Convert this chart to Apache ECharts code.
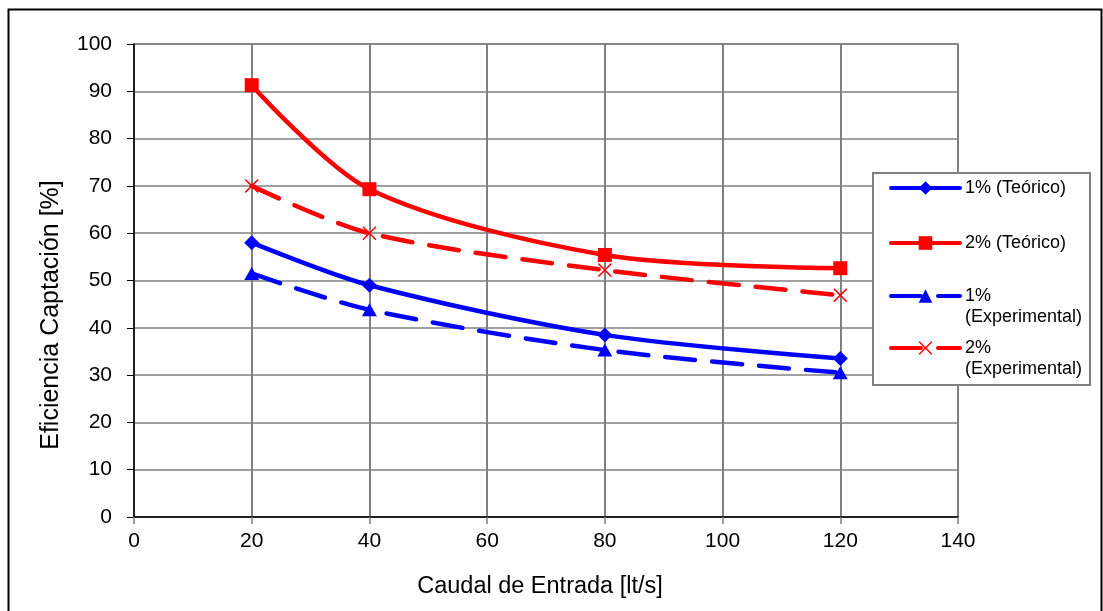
<!DOCTYPE html>
<html>
<head>
<meta charset="utf-8">
<script src="https://cdn.jsdelivr.net/npm/echarts@6/dist/echarts.min.js"></script>
<style>
html,body{margin:0;padding:0;background:#fff;}
#c{width:1103px;height:611px;}
</style>
</head>
<body>
<div id="c"></div>
<script>
const xValues = [20, 40, 80, 120];
const teorico1 = [58.0, 49.0, 38.5, 33.5];
const teorico2 = [91.3, 69.3, 55.4, 52.6];
const exper1 = [51.5, 43.8, 35.3, 30.5];
const exper2 = [70.0, 60.0, 52.2, 46.9];
const seriesNames = ['1% (Teórico)', '2% (Teórico)', '1% (Experimental)', '2% (Experimental)'];

const xPath = 'path://M0,1.5 L1.5,0 L10,8.5 L18.5,0 L20,1.5 L11.5,10 L20,18.5 L18.5,20 L10,11.5 L1.5,20 L0,18.5 L8.5,10 Z';
const FONT = '"Liberation Sans", Arial, sans-serif';

function pairs(vals){ return xValues.map((x,i)=>[x, vals[i]]); }

function legendFor(idx, top){
  return {
    show:true, orient:'vertical', left:889, top:top, padding:0, itemGap:0,
    itemWidth:69, itemHeight:17, backgroundColor:'transparent', borderWidth:0,
    textStyle:{fontSize:18, color:'#000', fontFamily:FONT, lineHeight:21},
    lineStyle:{width:4},
    formatter:function(n){ return n.indexOf(' (Experimental)') >= 0 ? ' \n' + n.replace(' (Experimental)', '\n(Experimental)') : n; },
    data:[ seriesNames[idx] ],
    z:10
  };
}

const chart = echarts.init(document.getElementById('c'), null, {renderer:'canvas'});
chart.setOption({
  animation:false,
  backgroundColor:'#fff',
  textStyle:{fontFamily:FONT},
  grid:{left:134, right:145, top:44, bottom:94, show:true, borderColor:'#808080', borderWidth:1.5, backgroundColor:'transparent'},
  graphic:[
    {type:'rect', shape:{x:8.5, y:9.5, width:1093, height:700}, style:{fill:'none', stroke:'#000', lineWidth:2}, z:-1, silent:true},
    {type:'rect', shape:{x:873, y:173, width:217, height:212}, style:{fill:'#fff', stroke:'#808080', lineWidth:2}, z:5, silent:true}
  ],
  xAxis:{
    type:'value', min:0, max:140, interval:20,
    name:'Caudal de Entrada [lt/s]', nameLocation:'middle', nameGap:58,
    nameTextStyle:{fontSize:23.5, color:'#000', fontFamily:FONT, padding:[0,12,0,0]},
    axisLine:{show:true, lineStyle:{color:'#000', width:1.5}},
    axisTick:{show:true, inside:false, length:7, lineStyle:{color:'#808080', width:1.5}},
    axisLabel:{fontSize:21, color:'#000', margin:14, fontFamily:FONT},
    splitLine:{show:true, lineStyle:{color:'#808080', width:2}}
  },
  yAxis:{
    type:'value', min:0, max:100, interval:10,
    name:'Eficiencia Captación [%]', nameLocation:'middle', nameGap:70,
    nameTextStyle:{fontSize:25, color:'#000', fontFamily:FONT, padding:[0,69,0,0]},
    axisLine:{show:true, lineStyle:{color:'#000', width:1.5}},
    axisTick:{show:true, inside:false, length:7, lineStyle:{color:'#000'}},
    axisLabel:{fontSize:21, color:'#000', margin:22, fontFamily:FONT},
    splitLine:{show:true, lineStyle:{color:'#808080', width:1.5}}
  },
  legend:[
    legendFor(0, 177.5),
    legendFor(1, 232.5),
    legendFor(2, 264.5),
    legendFor(3, 316.5)
  ],
  series:[
    {name:seriesNames[0], type:'line', smooth:0.3, data:pairs(teorico1), symbol:'diamond', symbolSize:15,
     lineStyle:{color:'#0000ff', width:4.5, cap:'round'}, itemStyle:{color:'#0000ff'}, z:4},
    {name:seriesNames[1], type:'line', smooth:0.3, data:pairs(teorico2), symbol:'rect', symbolSize:14,
     lineStyle:{color:'#ff0000', width:4.5, cap:'round'}, itemStyle:{color:'#ff0000'}, z:4},
    {name:seriesNames[2], type:'line', smooth:0.3, data:pairs(exper1), symbol:'triangle', symbolSize:[15,13],
     lineStyle:{color:'#0000ff', width:4.5, type:[30,17], cap:'round'}, itemStyle:{color:'#0000ff'}, z:3},
    {name:seriesNames[3], type:'line', smooth:0.3, data:pairs(exper2), symbol:xPath, symbolSize:14,
     lineStyle:{color:'#ff0000', width:4.5, type:[30,17], cap:'round'}, itemStyle:{color:'#ff0000'}, z:3}
  ]
});
</script>
</body>
</html>
